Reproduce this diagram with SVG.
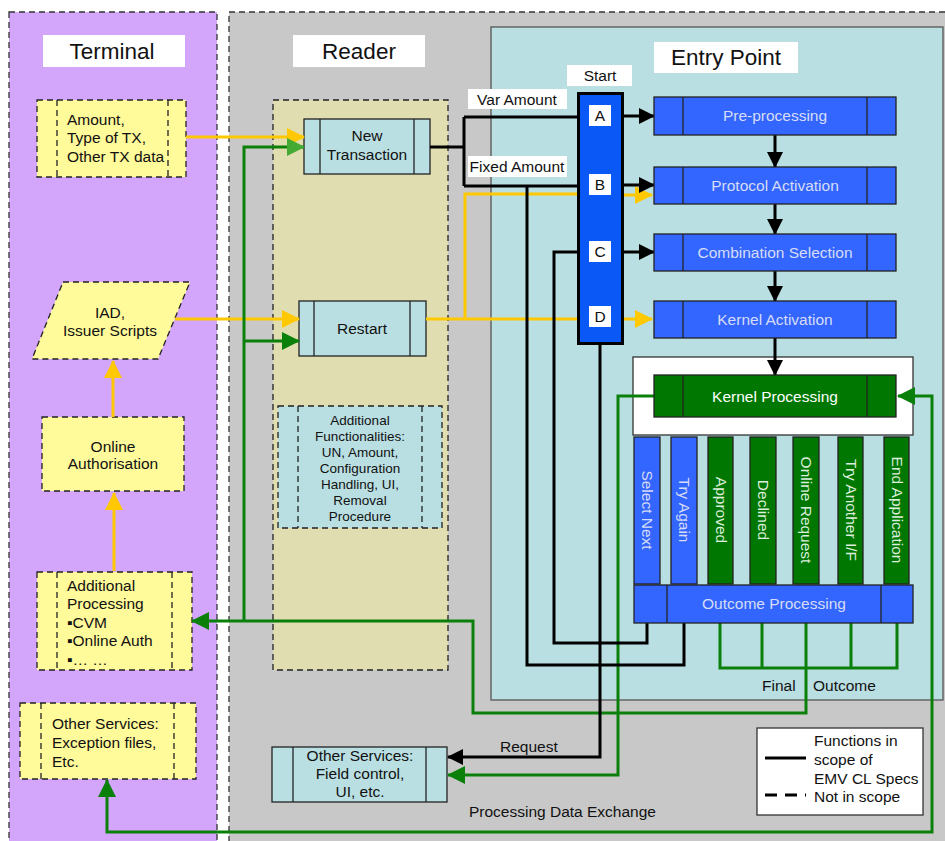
<svg xmlns="http://www.w3.org/2000/svg" width="945" height="841" viewBox="0 0 945 841">
<defs>
<style>
text{font-family:"Liberation Sans",Arial,sans-serif;font-size:15.5px;fill:#111}
.c{text-anchor:middle}
.big{font-size:22.5px}
.sm{font-size:13.5px}
.lane{stroke:#333;stroke-width:1.3;stroke-dasharray:6,4}
.dash{stroke:#222;stroke-width:1.3;stroke-dasharray:6,4}
.solid{stroke:#222;stroke-width:1.3}
.yel{fill:#FFFA9A}
.cyan{fill:#BADFE2}
.blue{fill:#3366FF;stroke:#222;stroke-width:1.3}
.grn{fill:#007700;stroke:#222;stroke-width:1.3}
.bt{fill:#D6DCF7;text-anchor:middle}
.gt{fill:#DDEEDD;text-anchor:middle}
.kl{fill:none;stroke:#000;stroke-width:3}
.yl{fill:none;stroke:#FFC800;stroke-width:3}
.gl{fill:none;stroke:#0A800A;stroke-width:3}
</style>
<marker id="ak" markerUnits="userSpaceOnUse" markerWidth="16" markerHeight="16" refX="15" refY="8" orient="auto"><path d="M0,0 L16,8 L0,16 z" fill="#000"/></marker>
<marker id="ay" markerUnits="userSpaceOnUse" markerWidth="18" markerHeight="18" refX="17" refY="9" orient="auto"><path d="M0,0 L18,9 L0,18 z" fill="#FFC800"/></marker>
<marker id="ag" markerUnits="userSpaceOnUse" markerWidth="18" markerHeight="18" refX="17" refY="9" orient="auto"><path d="M0,0 L18,9 L0,18 z" fill="#0A800A"/></marker>
<marker id="ag2" markerUnits="userSpaceOnUse" markerWidth="18" markerHeight="18" refX="17" refY="9" orient="auto"><path d="M0,0 L18,9 L0,18 z" fill="#44AA33"/></marker>
</defs>

<g id="lanes">
<rect x="9" y="12" width="208" height="845" fill="#D3A6FC" class="lane"/>
<rect x="229" y="12" width="730" height="845" fill="#C8C8C8" class="lane"/>
<rect x="491" y="27" width="452" height="673" fill="#BADFE2" stroke="#555" stroke-width="1.3"/>
<rect x="273" y="100" width="175" height="570" fill="#E0DDB0" class="dash"/>
<rect x="43" y="35" width="142" height="32" fill="#fff"/>
<text x="112" y="59" class="c big">Terminal</text>
<rect x="293" y="35" width="132" height="32" fill="#fff"/>
<text x="359" y="59" class="c big">Reader</text>
<rect x="654" y="42" width="144" height="31" fill="#fff"/>
<text x="726" y="65" class="c big">Entry Point</text>
<rect x="633" y="357" width="280" height="78" fill="#fff" stroke="#333" stroke-width="1.3"/>
</g>

<g id="n-amount">
<rect x="37" y="100" width="149" height="77" class="yel dash"/>
<line x1="57" y1="100" x2="57" y2="177" class="dash"/><line x1="168" y1="100" x2="168" y2="177" class="dash"/>
<text x="67" y="125">Amount,</text><text x="67" y="143">Type of TX,</text><text x="67" y="162">Other TX data</text>
</g>
<g id="n-iad">
<polygon points="63,282 190,282 158,359 32,359" class="yel dash"/>
<text x="110" y="318" class="c">IAD,</text><text x="110" y="336" class="c">Issuer Scripts</text>
</g>
<g id="n-online">
<rect x="42" y="417" width="142" height="74" class="yel dash"/>
<text x="113" y="452" class="c">Online</text><text x="113" y="469" class="c">Authorisation</text>
</g>
<g id="n-addproc">
<rect x="37" y="572" width="155" height="98" class="yel dash"/>
<line x1="57" y1="572" x2="57" y2="670" class="dash"/><line x1="172" y1="572" x2="172" y2="670" class="dash"/>
<text x="67" y="591">Additional</text><text x="67" y="609">Processing</text><text x="67" y="628">▪CVM</text><text x="67" y="646">▪Online Auth</text><text x="67" y="665">▪… …</text>
</g>
<g id="n-other1">
<rect x="20" y="703" width="176" height="76" class="yel dash"/>
<line x1="41" y1="703" x2="41" y2="779" class="dash"/><line x1="174" y1="703" x2="174" y2="779" class="dash"/>
<text x="52" y="729">Other Services:</text><text x="52" y="748">Exception files,</text><text x="52" y="767">Etc.</text>
</g>

<g id="n-newtx">
<rect x="304" y="119" width="126" height="55" class="cyan solid"/>
<line x1="320" y1="119" x2="320" y2="174" class="solid"/><line x1="414" y1="119" x2="414" y2="174" class="solid"/>
<text x="367" y="141" class="c">New</text><text x="367" y="160" class="c">Transaction</text>
</g>
<g id="n-restart">
<rect x="299" y="301" width="127" height="55" class="cyan solid"/>
<line x1="314" y1="301" x2="314" y2="356" class="solid"/><line x1="410" y1="301" x2="410" y2="356" class="solid"/>
<text x="362" y="334" class="c">Restart</text>
</g>
<g id="n-addfunc">
<rect x="278" y="406" width="164" height="122" class="cyan dash"/>
<line x1="298" y1="406" x2="298" y2="528" class="dash"/><line x1="422" y1="406" x2="422" y2="528" class="dash"/>
<text x="360" y="425" class="c sm">Additional</text>
<text x="360" y="441" class="c sm">Functionalities:</text>
<text x="360" y="457" class="c sm">UN, Amount,</text>
<text x="360" y="473" class="c sm">Configuration</text>
<text x="360" y="489" class="c sm">Handling, UI,</text>
<text x="360" y="505" class="c sm">Removal</text>
<text x="360" y="521" class="c sm">Procedure</text>
</g>
<g id="n-other2">
<rect x="272" y="747" width="175" height="55" class="cyan solid"/>
<line x1="293" y1="747" x2="293" y2="802" class="solid"/><line x1="426" y1="747" x2="426" y2="802" class="solid"/>
<text x="360" y="761" class="c">Other Services:</text><text x="360" y="779" class="c">Field control,</text><text x="360" y="797" class="c">UI, etc.</text>
</g>

<g id="connectors">
<path d="M113,417 V361" class="yl" marker-end="url(#ay)"/>
<path d="M114,571 V493" class="yl" marker-end="url(#ay)"/>
<path d="M186,137 H304" class="yl" marker-end="url(#ay)"/>
<path d="M175,319 H299" class="yl" marker-end="url(#ay)"/>
<path d="M426,319 H580" class="yl"/>
<path d="M465,319 V194 H580" class="yl"/>
<path d="M620,319 H652" class="yl" marker-end="url(#ay)"/>
<path d="M620,195 H652" class="yl" marker-end="url(#ay)"/>
<path d="M244,621 V147 H304" class="gl" marker-end="url(#ag2)"/>
<path d="M244,341 H299" class="gl" marker-end="url(#ag)"/>
<path d="M720,623 V668 H897 V623 M762,623 V668 M851,623 V668" class="gl"/>
<path d="M806,623 V713 H473 V621 H192" class="gl" marker-end="url(#ag)"/>
<path d="M654,396 H618 V775 H448" class="gl" marker-end="url(#ag)"/>
<path d="M932,600 V396 H898" class="gl" marker-end="url(#ag)"/>
<path d="M932,600 V832 H107 V780" class="gl" marker-end="url(#ag)"/>
<path d="M430,147 H464 M464,117 V186 M464,117 H580 M464,186 H580" class="kl"/>
<path d="M527,186 V665 H684 V623" class="kl"/>
<path d="M580,252 H554 V643 H647 V623" class="kl"/>
<path d="M600,344 V757 H448" class="kl" marker-end="url(#ak)"/>
<path d="M622,116 H654" class="kl" marker-end="url(#ak)"/>
<path d="M622,185 H654" class="kl" marker-end="url(#ak)"/>
<path d="M622,252 H654" class="kl" marker-end="url(#ak)"/>
<path d="M775,135 V167" class="kl" marker-end="url(#ak)"/>
<path d="M775,204 V234" class="kl" marker-end="url(#ak)"/>
<path d="M775,271 V301" class="kl" marker-end="url(#ak)"/>
<path d="M775,338 V375" class="kl" marker-end="url(#ak)"/>
<rect x="468" y="89" width="99" height="20" fill="#fff"/>
<text x="517" y="105" class="c">Var Amount</text>
<rect x="468" y="156" width="99" height="21" fill="#fff"/>
<text x="517" y="172" class="c">Fixed Amount</text>
<text x="500" y="752">Request</text>
<text x="762" y="691">Final</text>
<text x="813" y="691">Outcome</text>
<text x="469" y="817">Processing Data Exchange</text>
</g>

<g id="n-start">
<rect x="567" y="65" width="65" height="21" fill="#fff"/>
<text x="600" y="81" class="c">Start</text>
<rect x="578.5" y="93.5" width="44" height="250" fill="#0A58F5" stroke="#000" stroke-width="3"/>
<rect x="589" y="105" width="22" height="21" fill="#fff"/><text x="600" y="121" class="c">A</text>
<rect x="589" y="174" width="22" height="21" fill="#fff"/><text x="600" y="190" class="c">B</text>
<rect x="589" y="241" width="22" height="21" fill="#fff"/><text x="600" y="257" class="c">C</text>
<rect x="589" y="306" width="22" height="21" fill="#fff"/><text x="600" y="322" class="c">D</text>
</g>

<g id="n-preproc">
<rect x="654" y="97" width="242" height="38" class="blue"/>
<line x1="683" y1="97" x2="683" y2="135" class="solid"/><line x1="867" y1="97" x2="867" y2="135" class="solid"/>
<text x="775" y="121" class="bt">Pre-processing</text>
</g>
<g id="n-protocol">
<rect x="654" y="167" width="242" height="37" class="blue"/>
<line x1="683" y1="167" x2="683" y2="204" class="solid"/><line x1="867" y1="167" x2="867" y2="204" class="solid"/>
<text x="775" y="191" class="bt">Protocol Activation</text>
</g>
<g id="n-combo">
<rect x="654" y="234" width="242" height="37" class="blue"/>
<line x1="683" y1="234" x2="683" y2="271" class="solid"/><line x1="867" y1="234" x2="867" y2="271" class="solid"/>
<text x="775" y="258" class="bt">Combination Selection</text>
</g>
<g id="n-kact">
<rect x="654" y="301" width="242" height="37" class="blue"/>
<line x1="683" y1="301" x2="683" y2="338" class="solid"/><line x1="867" y1="301" x2="867" y2="338" class="solid"/>
<text x="775" y="325" class="bt">Kernel Activation</text>
</g>
<g id="n-kproc">
<rect x="654" y="375" width="242" height="42" class="grn"/>
<line x1="683" y1="375" x2="683" y2="417" class="solid"/><line x1="867" y1="375" x2="867" y2="417" class="solid"/>
<text x="775" y="402" class="c" style="fill:#fff">Kernel Processing</text>
</g>

<g id="n-outcomes">
<rect x="634" y="437" width="26" height="147" class="blue"/>
<text transform="translate(647,510) rotate(90)" class="bt" dy="5">Select Next</text>
<rect x="671" y="437" width="26" height="147" class="blue"/>
<text transform="translate(684,510) rotate(90)" class="bt" dy="5">Try Again</text>
<rect x="708" y="437" width="25" height="147" class="grn"/>
<text transform="translate(720.5,510) rotate(90)" class="gt" dy="5">Approved</text>
<rect x="750" y="437" width="26" height="147" class="grn"/>
<text transform="translate(763,510) rotate(90)" class="gt" dy="5">Declined</text>
<rect x="793" y="437" width="26" height="147" class="grn"/>
<text transform="translate(806,510) rotate(90)" class="gt" dy="5">Online Request</text>
<rect x="838" y="437" width="25" height="147" class="grn"/>
<text transform="translate(850.5,510) rotate(90)" class="gt" dy="5">Try Another I/F</text>
<rect x="884" y="437" width="25" height="147" class="grn"/>
<text transform="translate(896.5,510) rotate(90)" class="gt" dy="5">End Application</text>
</g>
<g id="n-outproc">
<rect x="634" y="585" width="279" height="38" class="blue"/>
<line x1="667" y1="585" x2="667" y2="623" class="solid"/><line x1="881" y1="585" x2="881" y2="623" class="solid"/>
<text x="774" y="609" class="bt">Outcome Processing</text>
</g>

<g id="legend">
<rect x="757" y="728" width="166" height="87" fill="#fff" stroke="#333" stroke-width="1.3"/>
<line x1="765" y1="758" x2="806" y2="758" stroke="#000" stroke-width="3"/>
<line x1="765" y1="795" x2="806" y2="795" stroke="#000" stroke-width="3" stroke-dasharray="12,8"/>
<text x="814" y="746">Functions in</text>
<text x="814" y="765">scope of</text>
<text x="814" y="784">EMV CL Specs</text>
<text x="814" y="802">Not in scope</text>
</g>
</svg>
